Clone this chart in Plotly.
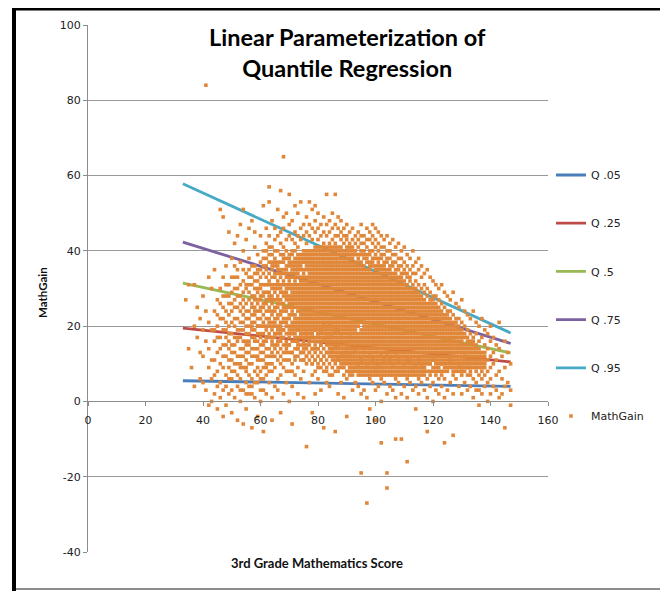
import plotly.graph_objects as go

# ---------------- data ----------------
# Quantile regression lines (fitted values at the ends of the score range)
quantile_names = ["Q .05", "Q .25", "Q .5", "Q .75", "Q .95"]
quantile_x = [33, 147]
q05 = [5.5, 4.0]
q25 = [19.5, 10.5]
q50 = [31.4, 12.9]
q75 = [42.3, 15.4]
q95 = [57.8, 18.2]
quantile_colors = ["#4A7EBB", "#BE4B48", "#98B954", "#7D60A0", "#46AAC5"]

# Scatter: 3rd grade score -> list of observed MathGain values
score_levels = list(range(34, 148))
gains_by_score = [
    [27],
    [31, 14],
    [9],
    [31, 20, 4],
    [17, 25],
    [22, 6, 13],
    [28, 12, 5, 19],
    [84, 24, 16, 3],
    [33, 21, 14, 9, -1],
    [30, 19, 11, 6, 0],
    [35, 24, 16, 11, 2],
    [27, 20, 13, 8, -2, 17],
    [51, 30, 22, 17, 10, 5, 26],
    [49, 33, 25, 19, 15, 9, 3, -4],
    [36, 28, 21, 17, 12, 7, -1, 24, 4],
    [45, 31, 26, 23, 14, 9, 2, 18, 11],
    [38, 29, 24, 18, 15, 11, 6, -3, 21, 8],
    [42, 33, 27, 22, 20, 13, 8, 1, 17, 25],
    [44, 35, 30, 25, 19, 16, 10, 4, -5, 22, 12],
    [47, 37, 28, 24, 21, 17, 12, 6, 0, 14, 19, 9],
    [51, 40, 32, 27, 23, 19, 14, 9, 3, -6, 25, 16],
    [43, 34, 30, 26, 22, 18, 15, 11, 5, -2, 20, 8, 13],
    [46, 38, 33, 29, 24, 20, 16, 13, 7, 2, 27, 10, 18],
    [48, 36, 31, 28, 25, 21, 17, 14, 10, 4, -7, 23, 6, 19],
    [45, 41, 34, 30, 27, 23, 19, 16, 12, 8, 1, 21, 14, 25],
    [39, 35, 32, 29, 26, 22, 20, 18, 14, 9, 5, -4, 24, 11, 16],
    [44, 37, 33, 30, 27, 24, 20, 17, 15, 11, 6, 0, 22, 13, 8],
    [52, 40, 36, 31, 28, 25, 23, 21, 18, 13, 9, 3, -8, 16, 11, 6],
    [46, 42, 38, 35, 33, 29, 26, 22, 19, 16, 12, 7, 2, 24, 14, 10],
    [57, 53, 44, 39, 34, 31, 28, 27, 24, 20, 17, 14, 10, 5, 21, 12, 8],
    [48, 41, 37, 35, 33, 30, 26, 23, 19, 15, 12, 8, 1, -5, 28, 21, 17, 10],
    [46, 43, 38, 36, 34, 31, 29, 27, 24, 21, 20, 17, 14, 9, 4, 12, 18],
    [51, 44, 40, 36, 34, 32, 30, 28, 25, 22, 18, 15, 11, 6, 3, 26, 13, 20],
    [56, 45, 42, 39, 35, 33, 31, 29, 26, 23, 21, 19, 16, 12, 7, -3, 10, 14, 18],
    [65, 49, 46, 41, 38, 37, 34, 31, 28, 26, 24, 21, 17, 13, 9, 2, 15, 19, 11],
    [50, 43, 40, 36, 35, 33, 30, 29, 27, 24, 22, 20, 18, 15, 11, 5, 13, 8, 16],
    [55, 47, 44, 39, 38, 36, 33, 31, 30, 27, 25, 23, 20, 17, 13, 8, 0, 15, 11, 19],
    [48, 43, 40, 37, 35, 34, 31, 29, 28, 26, 25, 21, 19, 16, 10, 4, -6, 13, 8, 23],
    [52, 45, 42, 38, 36, 35, 33, 32, 30, 29, 27, 26, 23, 21, 18, 14, 7, 16, 11, 20],
    [50, 44, 41, 39, 37, 35, 34, 31, 29, 28, 26, 25, 22, 20, 17, 12, 9, 2, 15, 19, 14],
    [53, 46, 43, 39, 37, 36, 33, 32, 30, 28, 27, 25, 24, 22, 19, 15, 11, 6, 17, 13, 20],
    [47, 44, 40, 38, 35, 34, 32, 31, 29, 28, 26, 24, 22, 21, 18, 16, 13, 8, 1, 11, 19, 15],
    [49, 45, 42, 39, 37, 36, 33, 31, 30, 28, 27, 25, 24, 23, 20, 17, 14, 10, -12, 12, 18, 21],
    [53, 47, 44, 40, 38, 37, 35, 34, 32, 31, 29, 28, 26, 25, 23, 21, 18, 15, 11, 5, 13, 19, 16],
    [51, 46, 43, 39, 37, 36, 34, 33, 31, 30, 29, 27, 25, 24, 22, 20, 19, 16, 12, 7, -3, 14, 10, 18],
    [52, 48, 45, 41, 39, 38, 36, 35, 33, 32, 30, 29, 27, 26, 24, 22, 20, 17, 13, 8, 2, 15, 11, 19],
    [50, 46, 43, 40, 38, 37, 35, 34, 33, 31, 30, 28, 26, 25, 24, 23, 21, 19, 16, 12, 6, 14, 18, 10],
    [47, 44, 41, 39, 37, 36, 35, 34, 32, 31, 30, 29, 27, 26, 24, 22, 20, 17, 13, 9, 3, 15, 19, 11],
    [49, 45, 42, 40, 38, 37, 36, 35, 33, 32, 31, 29, 28, 27, 26, 25, 23, 21, 18, 14, 10, -7, 16, 12, 20],
    [55, 47, 44, 41, 39, 38, 36, 35, 34, 33, 31, 30, 29, 28, 27, 25, 23, 21, 19, 15, 11, 5, 17, 13, 8],
    [48, 45, 42, 40, 38, 37, 36, 35, 34, 32, 31, 30, 29, 28, 26, 25, 24, 22, 19, 15, 10, 4, 17, 13, 20],
    [50, 46, 43, 41, 39, 38, 37, 36, 35, 34, 33, 32, 31, 30, 29, 28, 27, 26, 24, 22, 20, 16, 12, 7, 18, 14],
    [55, 47, 44, 42, 40, 38, 37, 36, 35, 34, 33, 31, 30, 29, 28, 27, 26, 25, 24, 22, 21, 17, 13, 8, -8, 19, 15, 11],
    [49, 46, 44, 41, 39, 38, 37, 36, 35, 34, 32, 31, 30, 29, 28, 27, 25, 24, 23, 21, 17, 13, 9, 2, 19, 15, 11],
    [48, 45, 43, 40, 39, 38, 37, 36, 34, 33, 32, 31, 30, 29, 28, 27, 26, 25, 24, 23, 21, 19, 14, 10, 5, 17, 12],
    [46, 44, 42, 40, 38, 37, 36, 35, 34, 33, 32, 31, 30, 29, 28, 27, 26, 25, 23, 22, 21, 18, 16, 10, 1, 14, 12],
    [47, 44, 43, 41, 39, 38, 36, 35, 34, 33, 32, 31, 30, 29, 28, 27, 26, 24, 23, 22, 20, 19, 17, 15, 11, 6, -4, 13],
    [45, 42, 41, 39, 37, 36, 35, 34, 33, 32, 31, 30, 29, 28, 27, 26, 25, 24, 23, 22, 21, 19, 16, 14, 10, 7, 12, 17],
    [46, 43, 41, 40, 38, 37, 36, 34, 33, 32, 31, 30, 29, 28, 27, 26, 25, 24, 23, 22, 21, 20, 18, 15, 11, 8, 3, 13],
    [44, 42, 40, 39, 37, 36, 35, 34, 33, 32, 31, 30, 29, 28, 27, 26, 25, 24, 23, 22, 21, 20, 19, 16, 12, 9, 5, 14],
    [45, 43, 41, 39, 38, 37, 36, 35, 34, 33, 32, 31, 30, 29, 28, 27, 26, 25, 24, 23, 22, 21, 20, 17, 15, 12, 8, 4, 10],
    [47, 44, 42, 40, 39, 37, 36, 35, 34, 33, 32, 31, 30, 29, 28, 27, 26, 25, 24, 23, 22, 21, 19, 18, 16, 13, 9, 2, -19, 11],
    [44, 42, 40, 39, 38, 36, 35, 34, 33, 32, 31, 30, 29, 28, 27, 26, 25, 24, 23, 22, 21, 20, 18, 16, 14, 11, 7, 3, 13],
    [46, 43, 41, 39, 38, 37, 35, 34, 33, 32, 31, 30, 29, 28, 27, 26, 25, 24, 23, 22, 21, 20, 19, 17, 15, 12, 8, 1, -27, 10],
    [45, 43, 40, 39, 37, 36, 35, 34, 33, 32, 31, 30, 29, 28, 27, 26, 25, 24, 23, 22, 21, 20, 19, 18, 16, 14, 10, 6, -2, 12],
    [47, 44, 42, 40, 38, 37, 36, 34, 33, 32, 31, 30, 29, 28, 27, 26, 25, 24, 23, 22, 21, 20, 19, 17, 15, 13, 9, 5, 11],
    [46, 43, 41, 39, 38, 36, 35, 34, 33, 32, 31, 30, 29, 28, 27, 26, 25, 24, 23, 22, 21, 20, 19, 18, 16, 14, 11, 7, 3, -5, 9],
    [45, 42, 40, 38, 37, 36, 35, 34, 33, 32, 31, 30, 29, 28, 27, 26, 25, 24, 23, 22, 21, 20, 19, 17, 15, 12, 8, 4, 10],
    [44, 41, 39, 38, 36, 35, 34, 33, 32, 31, 30, 29, 28, 27, 26, 25, 24, 23, 22, 21, 20, 19, 18, 16, 14, 10, 6, 0, -11, 12],
    [43, 41, 39, 37, 36, 35, 34, 33, 32, 31, 30, 29, 28, 27, 26, 25, 24, 23, 22, 21, 20, 19, 18, 17, 15, 13, 9, 5, 11],
    [44, 40, 38, 37, 35, 34, 33, 32, 31, 30, 29, 28, 27, 26, 25, 24, 23, 22, 21, 20, 19, 18, 17, 16, 14, 11, 7, 2, -19, -23, 12],
    [42, 40, 38, 36, 35, 34, 33, 32, 31, 30, 29, 28, 27, 26, 25, 24, 23, 22, 21, 20, 19, 18, 17, 15, 13, 9, 4, 11],
    [43, 39, 37, 36, 34, 33, 32, 31, 30, 29, 28, 27, 26, 25, 24, 23, 22, 21, 20, 19, 18, 17, 16, 14, 12, 8, 3, 10],
    [41, 39, 37, 35, 34, 33, 32, 31, 30, 29, 28, 27, 26, 25, 24, 23, 22, 21, 20, 19, 18, 17, 15, 13, 10, 6, 1, -10, 12],
    [42, 38, 36, 35, 33, 32, 31, 30, 29, 28, 27, 26, 25, 24, 23, 22, 21, 20, 19, 18, 17, 16, 14, 12, 9, 5, 11],
    [40, 38, 36, 34, 33, 32, 31, 30, 29, 28, 27, 26, 25, 24, 23, 22, 21, 20, 19, 18, 17, 16, 15, 13, 11, 7, 2, -10],
    [41, 37, 35, 34, 32, 31, 30, 29, 28, 27, 26, 25, 24, 23, 22, 21, 20, 19, 18, 17, 16, 14, 12, 8, 4, 10],
    [39, 36, 34, 33, 31, 30, 29, 28, 27, 26, 25, 24, 23, 22, 21, 20, 19, 18, 17, 16, 15, 13, 10, 6, 1, -16, 11],
    [38, 35, 33, 32, 30, 29, 28, 27, 26, 25, 24, 23, 22, 21, 20, 19, 18, 17, 16, 14, 12, 9, 5, 11],
    [40, 36, 34, 31, 30, 29, 28, 27, 26, 25, 24, 23, 22, 21, 20, 19, 18, 17, 15, 13, 11, 7, 3, 9],
    [37, 34, 32, 30, 29, 28, 27, 26, 25, 24, 23, 22, 21, 20, 19, 18, 17, 16, 14, 12, 8, 4, -2, 10],
    [38, 35, 31, 29, 28, 27, 26, 25, 24, 23, 22, 21, 20, 19, 18, 17, 16, 15, 13, 10, 6, 2, 11],
    [36, 33, 30, 28, 27, 26, 25, 24, 23, 22, 21, 20, 19, 18, 17, 16, 15, 14, 12, 9, 5, 10],
    [34, 31, 29, 27, 26, 25, 24, 23, 22, 21, 20, 19, 18, 17, 16, 15, 13, 11, 7, 3, 9],
    [35, 30, 28, 26, 25, 24, 23, 22, 21, 20, 19, 18, 17, 16, 15, 14, 12, 10, 6, 1, -8],
    [33, 29, 27, 25, 24, 23, 22, 21, 20, 19, 18, 17, 16, 15, 14, 13, 11, 8, 4, 10],
    [32, 28, 26, 25, 24, 23, 22, 21, 20, 19, 18, 17, 16, 15, 14, 12, 9, 5, 0, 11],
    [31, 28, 26, 24, 23, 22, 21, 20, 19, 18, 17, 16, 15, 14, 13, 11, 7, 3, 9],
    [30, 27, 25, 23, 22, 21, 20, 19, 18, 17, 16, 15, 14, 12, 10, 6, 2, 8],
    [31, 26, 24, 22, 21, 20, 19, 18, 17, 16, 15, 14, 13, 11, 8, 4, 10],
    [29, 25, 23, 21, 20, 19, 18, 17, 16, 15, 14, 12, 10, 6, 1, -11, 8],
    [28, 24, 22, 21, 20, 19, 18, 17, 16, 15, 13, 11, 8, 3, 10],
    [27, 24, 22, 20, 19, 18, 17, 16, 15, 14, 12, 9, 5, 11],
    [29, 23, 21, 19, 18, 17, 16, 15, 14, 13, 11, 7, 2, -9, 9],
    [26, 22, 20, 19, 18, 17, 16, 15, 14, 12, 10, 6, 8],
    [25, 22, 20, 18, 17, 16, 15, 14, 13, 11, 8, 4, 10],
    [27, 21, 19, 17, 16, 15, 14, 13, 12, 10, 7, 2, 9],
    [24, 20, 18, 17, 15, 14, 13, 11, 9, 5, 12],
    [23, 19, 17, 16, 14, 13, 12, 10, 7, 3, 9],
    [22, 18, 16, 15, 13, 12, 10, 8, 4, 11],
    [24, 17, 15, 14, 12, 11, 9, 6, 1],
    [21, 18, 15, 13, 12, 10, 8, 5, 3],
    [20, 16, 14, 12, 10, 7, 3, -1],
    [22, 17, 13, 11, 9, 6, 2],
    [19, 15, 12, 10, 7, 4],
    [18, 14, 11, 8, 5, 0],
    [20, 16, 12, 9, 6, 2],
    [17, 13, 10, 4],
    [15, 11, 7, 3],
    [21, 14, 8, 1],
    [12, 6, 2],
    [16, 9, 4, -7],
    [13, 5],
    [10, 3, -1],
]

# further students read from the crowded parts of the cloud (scores 44..138)
extra_score_levels = list(range(44, 139))
extra_gains_by_score = [
    [7, 19], [4, 23], [14, 1], [22, 12, 28], [15, 31, 19],
    [6, 20, 28, 16], [26, 13, 33, 3], [30, 10, 15, 36], [28, 7, 17, 33],
    [31, 26, 3, 10], [29, 21, 35, 12], [24, 16, 31, 9, 2],
    [31, 22, 35, 4, 15], [33, 26, 12, 20, 2], [32, 28, 17, 24, 5, 36],
    [27, 30, 20, 12, 34, 7], [35, 28, 25, 18, 31, 3],
    [34, 29, 26, 20, 15, 38], [36, 31, 27, 20, 17, 40, 9],
    [37, 32, 29, 25, 22, 18, 41], [39, 36, 31, 27, 24, 20, 16, 13],
    [40, 37, 33, 30, 25, 22, 18, 15],
    # 66 .. 92
    [37, 35, 31, 27, 23, 19, 16],
    [37, 34, 30, 27, 24, 20, 17],
    [39, 35, 32, 29, 25, 22, 19],
    [38, 34, 31, 28, 25, 21, 14],
    [37, 34, 32, 28, 26, 22, 18, 15],
    [39, 36, 33, 30, 27, 24, 20, 18, 13],
    [40, 37, 34, 31, 28, 25, 22, 19, 17, 12],
    [38, 36, 33, 30, 27, 24, 21, 19, 16, 14],
    [38, 35, 31, 29, 26, 23, 21, 18, 17, 13],
    [39, 37, 33, 30, 27, 25, 23, 20, 17, 14, 11],
    [40, 38, 35, 32, 29, 26, 22, 19, 18, 15, 12],
    [39, 36, 33, 30, 27, 24, 22, 20, 17, 16, 13],
    [40, 38, 35, 32, 28, 26, 23, 21, 18, 17, 14, 10],
    [40, 37, 34, 31, 28, 25, 23, 21, 19, 16, 14, 11],
    [41, 39, 36, 32, 29, 27, 22, 20, 18, 17, 14, 9],
    [40, 38, 33, 28, 25, 23, 21, 19, 18, 16, 15, 11],
    [41, 39, 34, 30, 24, 22, 20, 19, 17, 16, 12, 8],
    [40, 37, 32, 26, 24, 22, 20, 18, 17, 16, 13, 9],
    [41, 39, 33, 27, 23, 21, 20, 18, 17, 16, 14, 12, 7],
    [40, 25, 23, 21, 19, 18, 17, 15, 14, 13, 11, 9],
    [41, 39, 32, 23, 20, 19, 18, 16, 15, 14, 12, 10],
    [40, 33, 26, 22, 20, 19, 18, 16, 15, 14, 12, 11, 8],
    [41, 35, 22, 20, 18, 17, 16, 15, 13, 12, 11, 9],
    [39, 24, 20, 19, 17, 15, 13, 12, 11, 9, 7],
    [40, 37, 25, 21, 18, 16, 14, 13, 12, 10, 8],
    [40, 38, 20, 18, 17, 15, 13, 12, 11, 9, 8],
    [39, 35, 19, 17, 16, 14, 13, 12, 10, 9, 7],
    # 93 .. 117
    [18, 17, 15, 14, 13, 11, 10, 8],
    [18, 16, 14, 13, 11, 10, 9, 7],
    [17, 15, 14, 12, 11, 10, 8, 7],
    [19, 17, 15, 13, 12, 10, 9, 8],
    [18, 16, 14, 13, 11, 10, 9, 7],
    [17, 15, 13, 12, 11, 9, 8, 7],
    [18, 16, 14, 12, 11, 10, 8, 7],
    [17, 15, 13, 12, 10, 9, 8],
    [18, 16, 14, 13, 11, 10, 9, 7],
    [17, 15, 13, 12, 11, 9, 8, 7],
    [16, 14, 12, 11, 10, 8, 7],
    [15, 13, 12, 10, 9, 8],
    [16, 14, 12, 11, 10, 8, 7],
    [15, 13, 11, 10, 9, 7],
    [16, 14, 12, 11, 9, 8, 7],
    [15, 13, 11, 10, 8, 7],
    [14, 12, 10, 9, 8],
    [15, 13, 11, 10, 9, 7],
    [14, 12, 11, 9, 8, 7],
    [15, 13, 11, 10, 8, 7],
    [16, 14, 12, 10, 9, 8],
    [15, 13, 11, 10, 9, 7],
    [14, 12, 11, 9, 8, 7],
    [13, 11, 10, 8, 7],
    [14, 12, 10, 9, 8],
    # 118 .. 138
    [13, 11, 8], [12, 10, 7, 26], [13, 11, 8, 27], [12, 10, 8, 25],
    [13, 11, 9, 24], [12, 10, 7, 23], [13, 11, 9, 22], [14, 12, 9, 23],
    [13, 11, 10, 21], [12, 10, 8, 20], [13, 11, 9, 21], [12, 10, 9, 19],
    [11, 9, 8, 18], [12, 10, 8], [11, 9, 15], [9, 14, 7], [13, 10, 16],
    [11, 9, 14], [11, 9, 13], [10, 12, 8], [9, 11, 13],
]

x_ticks = [0, 20, 40, 60, 80, 100, 120, 140, 160]
y_ticks = [-40, -20, 0, 20, 40, 60, 80, 100]
y_tick_labels = ["-40", "-20", "0", "20", "40", "60", "80", "100"]

# table for the scatter trace
scores, gains = [], []
for levels, table in ((score_levels, gains_by_score),
                      (extra_score_levels, extra_gains_by_score)):
    for s, gl in zip(levels, table):
        for g in gl:
            scores.append(s)
            gains.append(g)

# ---------------- figure ----------------
fig = go.Figure()
for name, ys, col in zip(quantile_names, [q05, q25, q50, q75, q95], quantile_colors):
    fig.add_trace(go.Scatter(x=quantile_x, y=ys, mode="lines", name=name,
                             legendgroup=name,
                             line=dict(color=col, width=2.8)))
fig.add_trace(go.Scatter(x=scores, y=gains, mode="markers", name="MathGain",
                         legendgroup="MathGain",
                         marker=dict(symbol="square", size=3.6, color="#E0873A",
                                     line=dict(width=0))))

# the page body adds an 8px margin, so work in page pixels minus 8
OFF = 8
W, H = 668 - OFF, 591 - OFF
L, R, T, B = 88 - OFF, 548 - OFF, 25 - OFF, 552 - OFF
pw, ph = R - L, B - T


def px(xp):
    return (xp - OFF - L) / pw


def py(yp):
    return (B - (yp - OFF)) / ph


axis_font = dict(family="DejaVu Sans", size=11, color="#222222")

fig.update_layout(
    width=W, height=H,
    margin=dict(l=L, r=W - R, t=T, b=H - B, pad=0),
    paper_bgcolor="white", plot_bgcolor="white",
    showlegend=True,
    legend=dict(x=px(551), y=py(160.5), xanchor="left", yanchor="top",
                font=dict(family="DejaVu Sans", size=11, color="#222222"),
                tracegroupgap=29.2, bgcolor="rgba(0,0,0,0)"),
    xaxis=dict(range=[0, 160], tickvals=x_ticks, showgrid=False, zeroline=False,
               showline=True, linecolor="#8c8c8c", linewidth=1,
               ticks="outside", ticklen=4, tickcolor="#8c8c8c",
               ticklabelstandoff=4,
               anchor="free", position=(0 - (-40)) / 140,
               tickfont=axis_font),
    yaxis=dict(range=[-40, 100], tickvals=y_ticks, ticktext=y_tick_labels,
               showgrid=True, gridcolor="#999999", gridwidth=1, zeroline=False,
               showline=True, linecolor="#8c8c8c", linewidth=1,
               ticks="outside", ticklen=4, tickcolor="#8c8c8c",
               tickfont=axis_font),
    annotations=[
        dict(text="Linear Parameterization of<br>Quantile Regression",
             xref="paper", yref="paper", x=px(347), y=py(21),
             xanchor="center", yanchor="top", showarrow=False,
             font=dict(family="Lato", size=23.5, color="black", weight="bold")),
        dict(text="<b>3rd Grade Mathematics Score</b>",
             xref="paper", yref="paper", x=px(317), y=py(563),
             xanchor="center", yanchor="middle", showarrow=False,
             font=dict(family="Lato", size=13, color="#111111")),
        dict(text="<b>MathGain</b>", textangle=-90,
             xref="paper", yref="paper", x=px(42), y=py(293),
             xanchor="center", yanchor="middle", showarrow=False,
             font=dict(family="Lato", size=11.5, color="#111111")),
    ],
    shapes=[
        dict(type="line", xref="paper", yref="paper", x0=px(14), x1=px(14),
             y0=py(6), y1=py(591), line=dict(color="black", width=4)),
        dict(type="line", xref="paper", yref="paper", x0=px(12), x1=px(668),
             y0=py(8.5), y1=py(8.5), line=dict(color="black", width=4)),
        dict(type="line", xref="paper", yref="paper", x0=px(16), x1=px(668),
             y0=py(589), y1=py(589), line=dict(color="#8c8c8c", width=2)),
    ],
)

fig.write_html("out.html")
